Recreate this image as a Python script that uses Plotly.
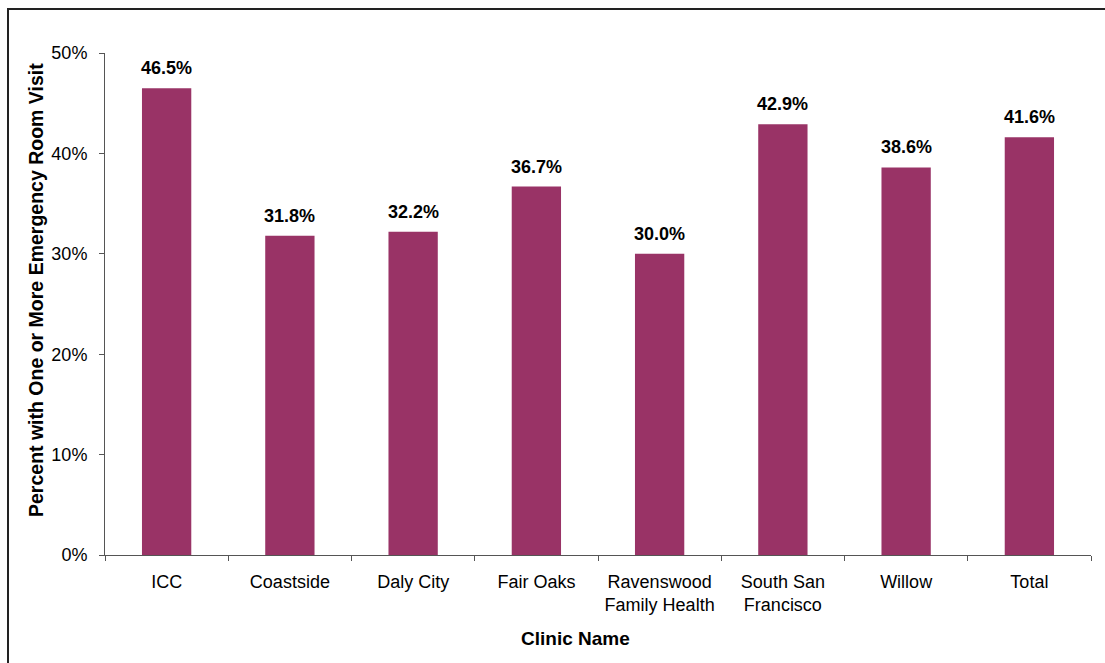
import plotly.graph_objects as go

clinics = ["ICC", "Coastside", "Daly City", "Fair Oaks", "Ravenswood<br>Family Health",
           "South San<br>Francisco", "Willow", "Total"]
pct_er_visit = [46.5, 31.8, 32.2, 36.7, 30.0, 42.9, 38.6, 41.6]
y_ticks = [0, 10, 20, 30, 40, 50]

W, H = 1105, 663
L, R, T, B = 105, 14, 53, 108
pw, ph = W - L - R, H - T - B

def px_x(p):
    return (p - L) / pw

def px_y(p):
    return (H - B - p) / ph

FONT = "Liberation Sans, Arial, sans-serif"
BAR = "#993366"

fig = go.Figure(go.Bar(
    x=clinics, y=pct_er_visit, width=0.4,
    marker=dict(color=BAR, line=dict(width=0)),
    hoverinfo="skip",
))

for c, v in zip(clinics, pct_er_visit):
    fig.add_annotation(x=c, y=v, text=f"<b>{v:.1f}%</b>", showarrow=False,
                       yanchor="bottom", yshift=8,
                       font=dict(family=FONT, size=18, color="#000"))

fig.add_annotation(xref="paper", yref="paper", x=px_x(575), y=px_y(638),
                   text="<b>Clinic Name</b>", showarrow=False,
                   xanchor="center", yanchor="middle",
                   font=dict(family=FONT, size=19, color="#000"))
fig.add_annotation(xref="paper", yref="paper", x=px_x(36), y=px_y(290),
                   text="<b>Percent with One or More Emergency Room Visit</b>",
                   textangle=-90, showarrow=False,
                   xanchor="center", yanchor="middle",
                   font=dict(family=FONT, size=19.5, color="#000"))

# chart frame
fig.add_shape(type="rect", xref="paper", yref="paper",
              x0=px_x(8), x1=px_x(1120), y0=px_y(680), y1=px_y(9),
              line=dict(color="#222", width=2), fillcolor="rgba(0,0,0,0)")

fig.update_layout(
    width=W, height=H,
    margin=dict(l=L, r=R, t=T, b=B, pad=0),
    paper_bgcolor="white", plot_bgcolor="white",
    showlegend=False,
    font=dict(family=FONT, size=18, color="#000"),
    xaxis=dict(
        showline=True, linecolor="#555", linewidth=1,
        ticks="outside", tickson="boundaries", ticklen=5, tickcolor="#555",
        showgrid=False, zeroline=False, fixedrange=True,
        ticklabelstandoff=10,
        tickfont=dict(family=FONT, size=18, color="#000"),
    ),
    yaxis=dict(
        range=[0, 50], tickvals=y_ticks, ticktext=[f"{t}%" for t in y_ticks],
        showline=True, linecolor="#555", linewidth=1,
        ticks="outside", ticklen=5, tickcolor="#555",
        showgrid=False, zeroline=False, fixedrange=True,
        ticklabelstandoff=8,
        tickfont=dict(family=FONT, size=18, color="#000"),
    ),
)

fig.write_html("out.html")
